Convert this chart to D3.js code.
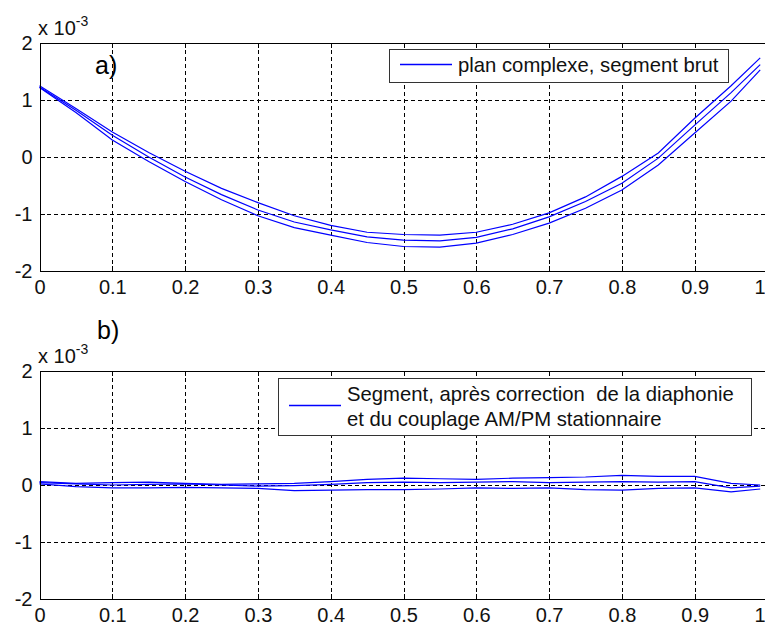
<!DOCTYPE html>
<html><head><meta charset="utf-8">
<script src="https://cdn.jsdelivr.net/npm/d3@7"></script>
<style>
html,body{margin:0;padding:0;background:#fff;}
svg{display:block;}
text{font-family:"Liberation Sans",Arial,sans-serif;}
</style></head>
<body><svg id="c" width="765" height="626"></svg>
<script>
// ---- data ----
const xs = [0,0.05,0.1,0.15,0.2,0.25,0.3,0.35,0.4,0.45,0.5,0.55,0.6,0.65,0.7,0.75,0.8,0.85,0.9,0.95,0.99];
// panel a (x 1e-3)
const rawA1 = [1.25,0.85,0.44,0.08,-0.25,-0.55,-0.80,-1.03,-1.20,-1.32,-1.36,-1.37,-1.32,-1.18,-0.98,-0.70,-0.34,0.07,0.68,1.25,1.74];
const rawA2 = [1.23,0.82,0.38,0.00,-0.35,-0.66,-0.93,-1.14,-1.28,-1.40,-1.46,-1.47,-1.41,-1.26,-1.05,-0.78,-0.46,-0.02,0.56,1.13,1.62];
const rawA3 = [1.22,0.78,0.30,-0.08,-0.43,-0.75,-1.03,-1.24,-1.37,-1.50,-1.57,-1.58,-1.51,-1.36,-1.16,-0.90,-0.58,-0.14,0.42,0.98,1.53];
// panel b (x 1e-3)
const corrB1 = [0.06,0.03,0.04,0.05,0.03,0.01,0.02,0.03,0.06,0.10,0.12,0.11,0.10,0.12,0.13,0.14,0.17,0.15,0.15,0.03,0.00];
const corrB2 = [0.04,0.02,0.00,0.01,0.02,0.00,-0.02,-0.01,0.01,0.04,0.05,0.04,0.05,0.06,0.04,0.05,0.06,0.05,0.06,-0.05,-0.02];
const corrB3 = [0.02,-0.03,-0.05,-0.05,-0.04,-0.05,-0.06,-0.10,-0.09,-0.08,-0.08,-0.07,-0.05,-0.06,-0.05,-0.08,-0.09,-0.06,-0.05,-0.12,-0.07];
const xTicks = [0,0.1,0.2,0.3,0.4,0.5,0.6,0.7,0.8,0.9,1];
const xTickLabels = ["0","0.1","0.2","0.3","0.4","0.5","0.6","0.7","0.8","0.9","1"];
const yTicks = [-2,-1,0,1,2];
const yTickLabels = ["-2","-1","0","1","2"];
const legendA = ["plan complexe, segment brut"];
const legendB = ["Segment, après correction  de la diaphonie","et du couplage AM/PM stationnaire"];
const panelLabels = ["a)","b)"];

const svg = d3.select("#c");
const left = 39.5, right = 767.5;
const x = d3.scaleLinear().domain([0,1]).range([left,right]);

function panel(top, bottom, series, legend, legendBox, label, labelPos){
  const y = d3.scaleLinear().domain([-2,2]).range([bottom,top]);
  const g = svg.append("g");
  // grid
  const grid = g.append("g").attr("stroke","#000").attr("stroke-width",1).attr("stroke-dasharray","4,3").attr("shape-rendering","crispEdges");
  grid.selectAll("line.v").data(xTicks.slice(1,-1)).join("line")
    .attr("x1",d=>Math.round(x(d))+0.5).attr("x2",d=>Math.round(x(d))+0.5).attr("y1",top).attr("y2",bottom);
  grid.selectAll("line.h").data(yTicks.slice(1,-1)).join("line")
    .attr("x1",left).attr("x2",right).attr("y1",d=>Math.round(y(d))+0.5).attr("y2",d=>Math.round(y(d))+0.5);
  // curves
  const line = d3.line().x((d,i)=>x(xs[i])).y(d=>y(d));
  series.forEach(s=>{
    g.append("path").attr("d",line(s)).attr("fill","none").attr("stroke","#0000ff").attr("stroke-width",1.2);
  });
  // axes
  const fx = d=>xTickLabels[xTicks.indexOf(d)];
  const fy = d=>yTickLabels[yTicks.indexOf(d)];
  const ax = g.append("g").attr("transform",`translate(0,${bottom})`)
    .call(d3.axisBottom(x).tickValues(xTicks).tickFormat(fx).tickSizeInner(-5).tickSizeOuter(0).tickPadding(9));
  const axt = g.append("g").attr("transform",`translate(0,${top})`)
    .call(d3.axisTop(x).tickValues(xTicks).tickFormat("").tickSizeInner(-5).tickSizeOuter(0));
  const ay = g.append("g").attr("transform",`translate(${left},0)`)
    .call(d3.axisLeft(y).tickValues(yTicks).tickFormat(fy).tickSizeInner(-5).tickSizeOuter(0).tickPadding(7));
  [ax,axt,ay].forEach(a=>{
    a.selectAll("path,line").attr("stroke","#000").attr("shape-rendering","crispEdges");
    a.selectAll("text").attr("font-size",20).attr("fill","#111").attr("font-family","Liberation Sans, Arial, sans-serif");
  });
  // last x label sits at the window edge: keep it visible
  ax.selectAll(".tick").filter(d=>d===1).select("text")
    .attr("text-anchor","end").attr("x",765-x(1));
  // x10^-3
  const ex = g.append("text").attr("x",38).attr("y",top-8).attr("font-size",20).attr("fill","#111");
  ex.append("tspan").text("x 10");
  ex.append("tspan").attr("dy",-9).attr("font-size",14).text("-3");
  // legend
  const [lx,ly,lw,lh] = legendBox;
  g.append("rect").attr("x",lx+0.5).attr("y",ly+0.5).attr("width",lw).attr("height",lh)
    .attr("fill","#fff").attr("stroke","#333").attr("stroke-width",1);
  const midY = legend.length===1 ? ly+15 : ly+27;
  g.append("line").attr("x1",lx+11).attr("x2",lx+63).attr("y1",midY+0.5).attr("y2",midY+0.5)
    .attr("stroke","#0000ff").attr("stroke-width",1.5);
  legend.forEach((t,i)=>{
    g.append("text").attr("x",lx+69).attr("y",ly+23+i*25).attr("font-size",20.3).attr("fill","#111")
      .style("white-space","pre").text(t);
  });
  // panel label
  g.append("text").attr("x",labelPos[0]).attr("y",labelPos[1]).attr("font-size",25)
    .attr("font-family","Liberation Serif, serif").attr("fill","#000").text(label);
}

panel(43,271,[rawA1,rawA2,rawA3],legendA,[389,49,339,33],panelLabels[0],[95,74]);
panel(371,599,[corrB1,corrB2,corrB3],legendB,[278,378,473,57],panelLabels[1],[97,339]);
</script></body></html>
